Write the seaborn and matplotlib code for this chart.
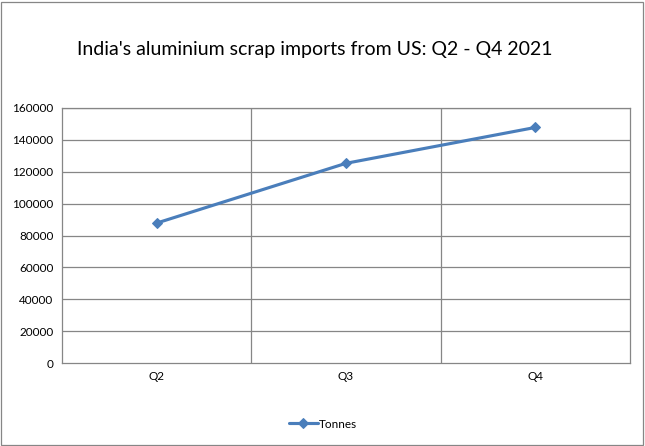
import matplotlib
matplotlib.use("Agg")
import matplotlib.pyplot as plt
import seaborn as sns
import pandas as pd
from matplotlib.patches import Rectangle

quarters = ["Q2", "Q3", "Q4"]
tonnes = [87800, 125300, 147800]
series_name = "Tonnes"
title = "India's aluminium scrap imports from US: Q2 - Q4 2021"

sns.set_style("white")
plt.rcParams['font.family'] = ['Lato', 'DejaVu Sans']
plt.rcParams['text.color'] = 'black'
plt.rcParams['xtick.color'] = 'black'
plt.rcParams['ytick.color'] = 'black'

df = pd.DataFrame({"quarter": quarters, "value": tonnes, "series": series_name})
df["pos"] = range(len(quarters))

fig = plt.figure(figsize=(6.45, 4.46), dpi=100)
ax = fig.add_axes([62/645, 1 - 363/446, (630 - 62)/645, (363 - 108)/446])

color = "#4a7ebb"
sns.lineplot(data=df, x="pos", y="value", hue="series", palette=[color], marker="D",
             markersize=5.5, linewidth=2.25, markeredgecolor=color, ax=ax, legend=True)

ax.set_xlim(-0.5, len(quarters) - 0.5)
ax.set_ylim(0, 160000)
ax.set_yticks(range(0, 160001, 20000))
ax.set_yticklabels([str(v) for v in range(0, 160001, 20000)], fontsize=8.5)
ax.set_xticks(range(len(quarters)))
ax.set_xticklabels(quarters, fontsize=8.5)
ax.set_xlabel("")
ax.set_ylabel("")
ax.tick_params(axis="both", length=0, pad=6)

for y in range(20000, 160001, 20000):
    ax.axhline(y, color="#868686", linewidth=0.9, zorder=0)
for x in [0.5, 1.5]:
    ax.axvline(x, color="#868686", linewidth=0.9, zorder=0)
for s in ax.spines.values():
    s.set_color("#868686")
    s.set_linewidth(0.9)

leg = ax.legend(loc="center", bbox_to_anchor=(323/645, 1 - 424/446),
                bbox_transform=fig.transFigure, frameon=False, fontsize=8.5,
                handlelength=2.5, handletextpad=0.1)

fig.text(315/645, 1 - 50/446, title, ha="center", va="center", fontsize=14)

fig.patches.append(Rectangle((1/645, 1/446), 642/645, 443/446, transform=fig.transFigure,
                             fill=False, edgecolor="#868686", linewidth=0.9))

fig.savefig("out.png", dpi=100)
